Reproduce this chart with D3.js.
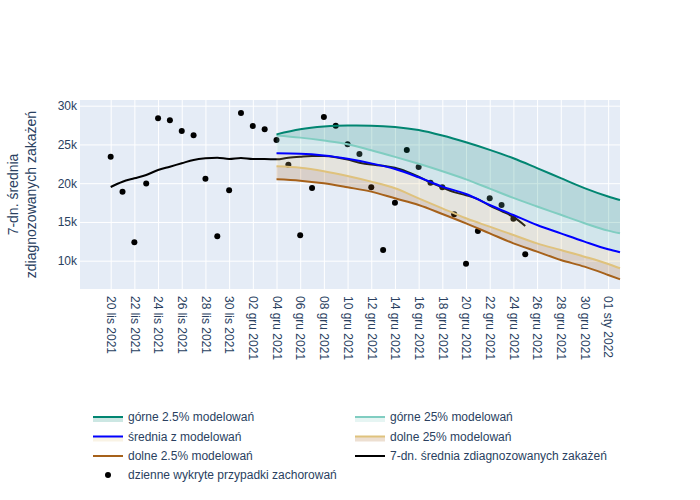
<!DOCTYPE html>
<html>
<head>
<meta charset="utf-8">
<script src="https://cdn.jsdelivr.net/npm/d3@7"></script>
<style>
  body { margin: 0; background: #fff; }
  svg { font-family: "Liberation Sans", Arial, sans-serif; }
</style>
</head>
<body>
<svg id="svg1" width="700" height="500"></svg>
<script>
var parseDate = d3.timeParse('%Y-%m-%d');

// daily detected cases, 20 lis - 25 gru
var dailyCases = [23400, 18900, 12370, 19950, 28370, 28120, 26740, 26180, 20580, 13150,
    19080, 29060, 27380, 26960, 25570, 22390, 13280, 19380, 28540, 27420,
    25020, 23770, 19470, 11380, 17480, 24280, 22090, 20070, 19470, 15990,
    9610, 13830, 18050, 17190, 15420, 10830];

// 7-day average, same days
var avg7 = [19510, 20190, 20630, 21060, 21700, 22130, 22570, 23000, 23210, 23290,
    23120, 23250, 23120, 23120, 23080, 23290, 23420, 23510, 23500, 23350,
    23050, 22650, 22400, 22250, 22000, 21500, 20850, 20100, 19450, 18850,
    18450, 17950, 17100, 16400, 15650, 14480];

// model output
var modelDates = ['2021-12-04', '2021-12-06', '2021-12-08', '2021-12-10', '2021-12-12', '2021-12-14',
    '2021-12-16', '2021-12-18', '2021-12-20', '2021-12-22', '2021-12-24', '2021-12-26',
    '2021-12-28', '2021-12-30', '2022-01-01', '2022-01-02'];
var upper25 = [26300, 26950, 27300, 27440, 27420, 27260, 26860, 26150, 25280, 24300, 23220, 21950, 20650, 19360, 18280, 17830];
var upper250 = [26150, 25880, 25500, 25030, 24250, 23400, 22500, 21550, 20500, 19300, 18100, 17000, 15920, 14840, 13880, 13530];
var meanModel = [23850, 23800, 23580, 23150, 22560, 21830, 20760, 19560, 18600, 17190, 15900, 14610, 13530, 12460, 11470, 11080];
var lower250 = [22180, 22000, 21550, 20930, 20200, 19340, 18050, 16760, 15470, 14390, 13320, 12240, 11380, 10520, 9580, 9020];
var lower25 = [20500, 20330, 19980, 19470, 18910, 18050, 17190, 16030, 14820, 13530, 12240, 11170, 10090, 9230, 8160, 7600];

var yTicks = [10000, 15000, 20000, 25000, 30000];
var monthsPl = ['sty', 'lut', 'mar', 'kwi', 'maj', 'cze', 'lip', 'sie', 'wrz', 'paź', 'lis', 'gru'];

var legendNames = ['górne 2.5% modelowań', 'górne 25% modelowań', 'średnia z modelowań',
    'dolne 25% modelowań', 'dolne 2.5% modelowań', '7-dn. średnia zdiagnozowanych zakażeń',
    'dzienne wykryte przypadki zachorowań'];

var lineColors = ['#018571', '#80cdc1', '#0000ff', '#dfc27d', '#a6611a', '#000000'];
var fillColors = ['rgba(1,133,113,0.2)', 'rgba(128,205,193,0.2)', 'rgba(223,194,125,0.2)', 'rgba(166,97,26,0.2)'];

var textColor = '#2a3f5f';

var dailyDays = d3.timeDay.range(parseDate('2021-11-20'), parseDate('2021-12-26'));
var tickDates = d3.timeDay.range(parseDate('2021-11-20'), parseDate('2022-01-02'), 2);

var plotLeft = 80, plotRight = 620, plotTop = 100, plotBottom = 289;

var x = d3.scaleTime()
    .domain([new Date(2021, 10, 17, 9, 50), parseDate('2022-01-02')])
    .range([plotLeft, plotRight]);
var y = d3.scaleLinear().domain([6348, 30735]).range([plotBottom, plotTop]);

var svg = d3.select('#svg1');

svg.append('rect')
    .attr('x', plotLeft).attr('y', plotTop)
    .attr('width', plotRight - plotLeft).attr('height', plotBottom - plotTop)
    .attr('fill', '#e5ecf6');

// axes + grid
var yAxis = svg.append('g')
    .attr('transform', 'translate(' + plotLeft + ',0)')
    .call(d3.axisLeft(y).tickValues(yTicks).tickSize(-(plotRight - plotLeft)).tickPadding(3)
        .tickFormat(function(d){ return d / 1000 + 'k'; }));

var xAxis = svg.append('g')
    .attr('transform', 'translate(0,' + plotBottom + ')')
    .call(d3.axisBottom(x).tickValues(tickDates).tickSize(-(plotBottom - plotTop))
        .tickFormat(function(d){
            return d3.timeFormat('%d')(d) + ' ' + monthsPl[d.getMonth()] + ' ' + d.getFullYear();
        }));

xAxis.selectAll('text')
    .attr('transform', 'rotate(90)')
    .attr('x', 7)
    .attr('y', 0)
    .attr('dy', '0.35em')
    .style('text-anchor', 'start');

[xAxis, yAxis].forEach(function(ax){
    ax.select('.domain').remove();
    ax.selectAll('line').attr('stroke', '#ffffff').attr('stroke-width', 1);
    ax.selectAll('text').attr('fill', textColor).style('font-size', '12px')
        .style('font-family', '"Liberation Sans", Arial, sans-serif');
});

// y title
svg.append('text')
    .text('7-dn. średnia')
    .attr('transform', 'translate(13.5,194.5)rotate(-90)')
    .attr('dy', '0.35em')
    .style('text-anchor', 'middle').style('font-size', '14px').attr('fill', textColor);
svg.append('text')
    .text('zdiagnozowanych zakażeń')
    .attr('transform', 'translate(31,194.5)rotate(-90)')
    .attr('dy', '0.35em')
    .style('text-anchor', 'middle').style('font-size', '14px').attr('fill', textColor);

// daily dots
svg.append('g').selectAll('circle')
    .data(dailyCases)
    .enter().append('circle')
    .attr('cx', function(d, i){ return x(dailyDays[i]); })
    .attr('cy', function(d){ return y(d); })
    .attr('r', 3)
    .attr('fill', '#000');

// 7-day average
var makeAvgLine = d3.line()
    .x(function(d, i){ return x(dailyDays[i]); })
    .y(function(d){ return y(d); })
    .curve(d3.curveMonotoneX);

svg.append('path')
    .datum(avg7)
    .attr('d', makeAvgLine)
    .attr('fill', 'none')
    .attr('stroke', lineColors[5])
    .attr('stroke-width', 2);

// model bands
var modelSeries = [upper25, upper250, meanModel, lower250, lower25];
var modelX = function(d, i){ return x(parseDate(modelDates[i])); };

modelSeries.slice(0, 4).forEach(function(upperLine, b){
    var lowerLine = modelSeries[b + 1];
    var makeBand = d3.area()
        .x(modelX)
        .y0(function(d, i){ return y(lowerLine[i]); })
        .y1(function(d){ return y(d); })
        .curve(d3.curveMonotoneX);
    svg.append('path')
        .datum(upperLine)
        .attr('d', makeBand)
        .attr('fill', fillColors[b])
        .attr('stroke', 'none');
});

var makeModelLine = d3.line()
    .x(modelX)
    .y(function(d){ return y(d); })
    .curve(d3.curveMonotoneX);

for (var m = 4; m >= 0; m--) {
    svg.append('path')
        .datum(modelSeries[m])
        .attr('d', makeModelLine)
        .attr('fill', 'none')
        .attr('stroke', lineColors[m])
        .attr('stroke-width', 2);
}

// legend
var legendCols = [93, 355];
var legendRows = [417, 436.5, 456, 475];

var legend = svg.append('g');
legendNames.forEach(function(name, i){
    var lx = i < 6 ? legendCols[i % 2] : legendCols[0];
    var ly = legendRows[Math.floor(i / 2)];
    var item = legend.append('g').attr('transform', 'translate(' + lx + ',' + ly + ')');
    if (i < 6) {
        if (i < 4) {
            item.append('rect')
                .attr('x', 0).attr('y', 0)
                .attr('width', 30).attr('height', 5)
                .attr('fill', fillColors[i]);
        }
        item.append('line')
            .attr('x1', 0).attr('x2', 30)
            .attr('y1', 0).attr('y2', 0)
            .attr('stroke', lineColors[i])
            .attr('stroke-width', 2);
    } else {
        item.append('circle').attr('cx', 15).attr('cy', 0).attr('r', 3).attr('fill', '#000');
    }
    item.append('text')
        .text(name)
        .attr('x', 35)
        .attr('dy', '0.35em')
        .style('font-size', '12px')
        .attr('fill', textColor);
});
</script>
</body>
</html>
